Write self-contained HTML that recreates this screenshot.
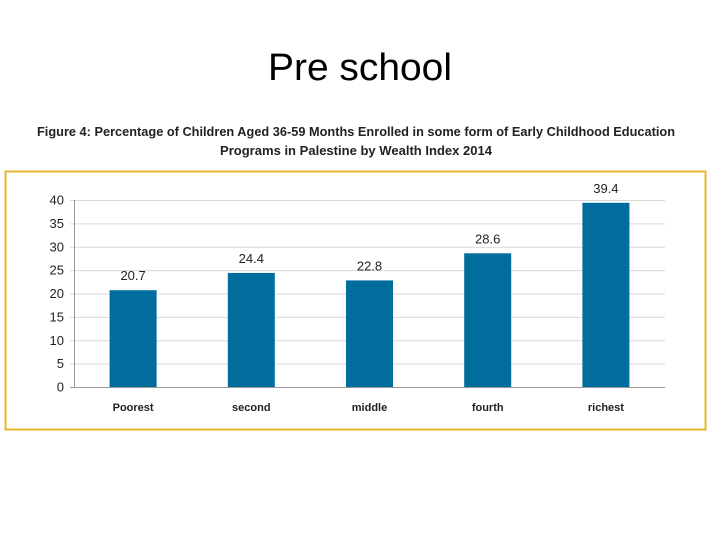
<!DOCTYPE html>
<html><head><meta charset="utf-8"><style>
body{margin:0;background:#fff;width:720px;height:540px;overflow:hidden;font-family:"Liberation Sans",sans-serif}
</style></head><body>
<svg width="720" height="540" xmlns="http://www.w3.org/2000/svg">
<text x="360" y="80" text-anchor="middle" font-size="38" fill="#000" textLength="184" lengthAdjust="spacingAndGlyphs">Pre school</text>
<text x="356" y="136" text-anchor="middle" font-size="13" font-weight="bold" fill="#222" textLength="638" lengthAdjust="spacingAndGlyphs">Figure 4: Percentage of Children Aged 36-59 Months Enrolled in some form of Early Childhood Education</text>
<text x="356" y="155" text-anchor="middle" font-size="13" font-weight="bold" fill="#222" textLength="272" lengthAdjust="spacingAndGlyphs">Programs in Palestine by Wealth Index 2014</text>
<rect x="5.5" y="171.5" width="700" height="258" fill="none" stroke="#E8B72E" stroke-width="2"/>
<g id="chart"></g>
</svg>
<script>
const categories=["Poorest","second","middle","fourth","richest"];
const values=[20.7,24.4,22.8,28.6,39.4];
const ticks=[0,5,10,15,20,25,30,35,40];
const NS="http://www.w3.org/2000/svg";
const g=document.getElementById("chart");
const x0=74,x1=665,y0=387,y1=200,maxV=40;
const y=v=>y0-(v/maxV)*(y0-y1);
const band=(x1-x0)/categories.length;
const xc=i=>x0+band*(i+0.5);
function mk(t,a){const e=document.createElementNS(NS,t);for(const k in a)e.setAttribute(k,a[k]);g.appendChild(e);return e;}
ticks.forEach(t=>{
  const l=mk("line",{x1:x0-4,x2:x1,y1:y(t)+0.5,y2:y(t)+0.5,stroke:t===0?"#999":"#d9d9d9","stroke-width":1});
  
  
  const tx=mk("text",{x:x0-10,y:y(t)+4.5,"text-anchor":"end","font-size":13,fill:"#222"});
  tx.textContent=t;
  
  
});
const ax=mk("line",{x1:x0+0.5,x2:x0+0.5,y1:y1,y2:y0,stroke:"#999"});


categories.forEach((c,i)=>{
  const w=47;
  const r=mk("rect",{x:xc(i)-w/2,y:y(values[i]),width:w,height:y0-y(values[i]),fill:"#006D9C"});
  
  
  const v=mk("text",{x:xc(i),y:y(values[i])-10,"text-anchor":"middle","font-size":13,fill:"#222"});
  v.textContent=values[i];
  
  
  const t=mk("text",{x:xc(i),y:411,"text-anchor":"middle","font-size":11,"font-weight":"bold",fill:"#222"});
  t.textContent=c;
  
  
});
</script>
</body></html>
